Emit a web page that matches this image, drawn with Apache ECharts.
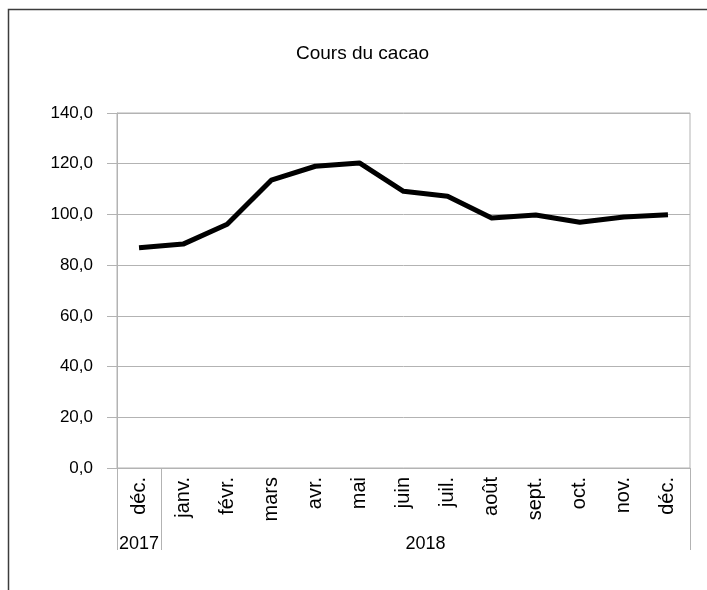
<!DOCTYPE html>
<html lang="fr">

<head>
    <meta charset="UTF-8">
    <title>Cours du cacao</title>
    <style>
        body {
            margin: 0px;
            padding: 0px;
            background: #ffffff;
        }

        #cacao {
            width: 707px;
            height: 590px;
        }
    </style>
</head>

<body>
    <div id="cacao"></div>
    <script src="https://cdn.jsdelivr.net/npm/echarts@6/dist/echarts.min.js"></script>
    <script>
        // donnees
        var months = ['déc.', 'janv.', 'févr.', 'mars', 'avr.', 'mai', 'juin', 'juil.', 'août', 'sept.', 'oct.', 'nov.', 'déc.'];
        var prices = [86.9, 88.3, 96.1, 113.5, 119.0, 120.3, 109.1, 107.2, 98.6, 99.8, 96.9, 99.0, 99.9];
        var years = ['2017', '2018'];
        var monthsPerYear = [1, 12];

        var font = 'Liberation Sans, Arial, sans-serif';
        var gridColor = '#b3b3b3';

        // bornes et centres des groupes d'annees (en unites de categorie)
        var yearBounds = [0];
        var yearCenters = [];
        var acc = 0;
        for (var i = 0; i < monthsPerYear.length; i++) {
            yearCenters.push(acc + monthsPerYear[i] / 2);
            acc += monthsPerYear[i];
            yearBounds.push(acc);
        }

        var chart = echarts.init(document.getElementById('cacao'));

        var option = {
            animation: false,
            title: {
                text: 'Cours du cacao',
                left: 291,
                top: 39,
                textStyle: {
                    fontFamily: font,
                    fontSize: 19,
                    fontWeight: 'normal',
                    color: '#000'
                }
            },
            graphic: [{
                type: 'rect',
                left: 6,
                top: 7,
                shape: { width: 760, height: 640 },
                style: { fill: 'none', stroke: '#3c3c3c', lineWidth: 1.5 },
                silent: true
            }],
            grid: {
                left: 117,
                top: 113,
                width: 573,
                height: 355,
                show: true,
                borderColor: gridColor,
                borderWidth: 1
            },
            xAxis: [{
                type: 'category',
                data: months,
                boundaryGap: true,
                axisLine: { lineStyle: { color: gridColor } },
                axisTick: { interval: 0, length: 61, lineStyle: { color: gridColor } },
                axisLabel: {
                    interval: 0,
                    rotate: 90,
                    margin: 9,
                    fontFamily: font,
                    fontSize: 20,
                    color: '#000'
                }
            }, {
                type: 'value',
                position: 'bottom',
                min: 0,
                max: months.length,
                axisLine: { show: false },
                splitLine: { show: false },
                axisTick: {
                    show: true,
                    customValues: yearBounds,
                    length: 82,
                    lineStyle: { color: gridColor }
                },
                axisLabel: {
                    customValues: yearCenters,
                    margin: 67,
                    fontFamily: font,
                    fontSize: 18,
                    color: '#000',
                    formatter: function (v) {
                        return years[yearCenters.indexOf(v)];
                    }
                }
            }],
            yAxis: {
                type: 'value',
                min: 0,
                max: 140,
                interval: 20,
                axisLine: { show: true, lineStyle: { color: gridColor } },
                axisTick: { show: true, length: 10, lineStyle: { color: gridColor } },
                splitLine: { lineStyle: { color: gridColor } },
                axisLabel: {
                    margin: 24,
                    fontFamily: font,
                    fontSize: 17,
                    color: '#000',
                    formatter: function (v) {
                        return v.toFixed(1).replace('.', ',');
                    }
                }
            },
            series: [{
                name: 'Cours',
                type: 'line',
                data: prices,
                symbol: 'none',
                lineStyle: { color: '#000', width: 5, cap: 'butt', join: 'round' }
            }]
        };

        chart.setOption(option);
    </script>
</body>

</html>
